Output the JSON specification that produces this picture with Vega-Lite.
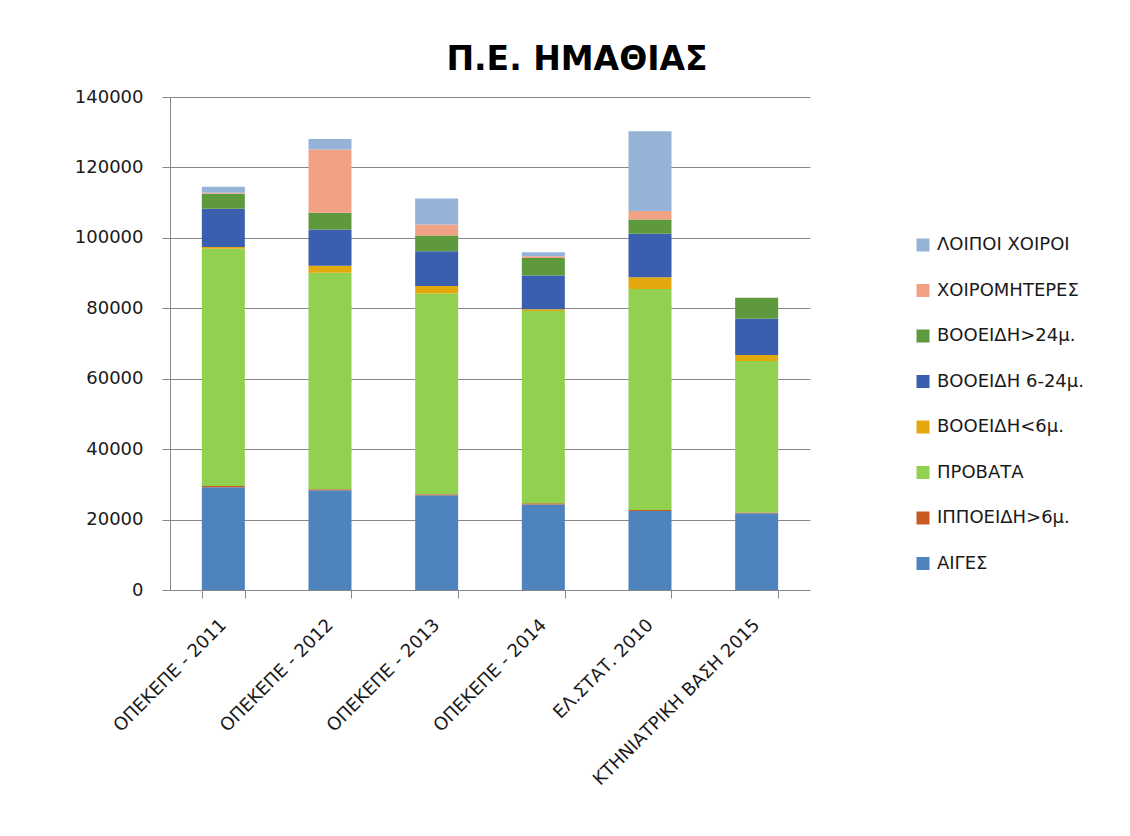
{
  "$schema": "https://vega.github.io/schema/vega-lite/v6.json",
  "autosize": "none",
  "width": 640,
  "height": 493,
  "padding": {"left": 170, "top": 97, "right": 320, "bottom": 246},
  "background": "white",
  "title": {
    "text": "Π.Ε. ΗΜΑΘΙΑΣ",
    "font": "DejaVu Sans",
    "fontSize": 33,
    "fontWeight": "bold",
    "color": "#000000",
    "anchor": "middle",
    "dx": 87,
    "offset": 11
  },
  "data": {
    "values": [
      {"cat": "ΟΠΕΚΕΠΕ - 2011", "s": "ΑΙΓΕΣ", "k": 1, "v": 29200},
      {"cat": "ΟΠΕΚΕΠΕ - 2011", "s": "ΙΠΠΟΕΙΔΗ>6μ.", "k": 2, "v": 300},
      {"cat": "ΟΠΕΚΕΠΕ - 2011", "s": "ΠΡΟΒΑΤΑ", "k": 3, "v": 67400},
      {"cat": "ΟΠΕΚΕΠΕ - 2011", "s": "ΒΟΟΕΙΔΗ<6μ.", "k": 4, "v": 500},
      {"cat": "ΟΠΕΚΕΠΕ - 2011", "s": "ΒΟΟΕΙΔΗ 6-24μ.", "k": 5, "v": 10900},
      {"cat": "ΟΠΕΚΕΠΕ - 2011", "s": "ΒΟΟΕΙΔΗ>24μ.", "k": 6, "v": 4200},
      {"cat": "ΟΠΕΚΕΠΕ - 2011", "s": "ΧΟΙΡΟΜΗΤΕΡΕΣ", "k": 7, "v": 300},
      {"cat": "ΟΠΕΚΕΠΕ - 2011", "s": "ΛΟΙΠΟΙ ΧΟΙΡΟΙ", "k": 8, "v": 1700},
      {"cat": "ΟΠΕΚΕΠΕ - 2012", "s": "ΑΙΓΕΣ", "k": 1, "v": 28300},
      {"cat": "ΟΠΕΚΕΠΕ - 2012", "s": "ΙΠΠΟΕΙΔΗ>6μ.", "k": 2, "v": 300},
      {"cat": "ΟΠΕΚΕΠΕ - 2012", "s": "ΠΡΟΒΑΤΑ", "k": 3, "v": 61500},
      {"cat": "ΟΠΕΚΕΠΕ - 2012", "s": "ΒΟΟΕΙΔΗ<6μ.", "k": 4, "v": 2000},
      {"cat": "ΟΠΕΚΕΠΕ - 2012", "s": "ΒΟΟΕΙΔΗ 6-24μ.", "k": 5, "v": 10300},
      {"cat": "ΟΠΕΚΕΠΕ - 2012", "s": "ΒΟΟΕΙΔΗ>24μ.", "k": 6, "v": 4700},
      {"cat": "ΟΠΕΚΕΠΕ - 2012", "s": "ΧΟΙΡΟΜΗΤΕΡΕΣ", "k": 7, "v": 18000},
      {"cat": "ΟΠΕΚΕΠΕ - 2012", "s": "ΛΟΙΠΟΙ ΧΟΙΡΟΙ", "k": 8, "v": 3000},
      {"cat": "ΟΠΕΚΕΠΕ - 2013", "s": "ΑΙΓΕΣ", "k": 1, "v": 26900},
      {"cat": "ΟΠΕΚΕΠΕ - 2013", "s": "ΙΠΠΟΕΙΔΗ>6μ.", "k": 2, "v": 300},
      {"cat": "ΟΠΕΚΕΠΕ - 2013", "s": "ΠΡΟΒΑΤΑ", "k": 3, "v": 57000},
      {"cat": "ΟΠΕΚΕΠΕ - 2013", "s": "ΒΟΟΕΙΔΗ<6μ.", "k": 4, "v": 2100},
      {"cat": "ΟΠΕΚΕΠΕ - 2013", "s": "ΒΟΟΕΙΔΗ 6-24μ.", "k": 5, "v": 9900},
      {"cat": "ΟΠΕΚΕΠΕ - 2013", "s": "ΒΟΟΕΙΔΗ>24μ.", "k": 6, "v": 4500},
      {"cat": "ΟΠΕΚΕΠΕ - 2013", "s": "ΧΟΙΡΟΜΗΤΕΡΕΣ", "k": 7, "v": 3100},
      {"cat": "ΟΠΕΚΕΠΕ - 2013", "s": "ΛΟΙΠΟΙ ΧΟΙΡΟΙ", "k": 8, "v": 7400},
      {"cat": "ΟΠΕΚΕΠΕ - 2014", "s": "ΑΙΓΕΣ", "k": 1, "v": 24300},
      {"cat": "ΟΠΕΚΕΠΕ - 2014", "s": "ΙΠΠΟΕΙΔΗ>6μ.", "k": 2, "v": 300},
      {"cat": "ΟΠΕΚΕΠΕ - 2014", "s": "ΠΡΟΒΑΤΑ", "k": 3, "v": 54600},
      {"cat": "ΟΠΕΚΕΠΕ - 2014", "s": "ΒΟΟΕΙΔΗ<6μ.", "k": 4, "v": 500},
      {"cat": "ΟΠΕΚΕΠΕ - 2014", "s": "ΒΟΟΕΙΔΗ 6-24μ.", "k": 5, "v": 9600},
      {"cat": "ΟΠΕΚΕΠΕ - 2014", "s": "ΒΟΟΕΙΔΗ>24μ.", "k": 6, "v": 5000},
      {"cat": "ΟΠΕΚΕΠΕ - 2014", "s": "ΧΟΙΡΟΜΗΤΕΡΕΣ", "k": 7, "v": 500},
      {"cat": "ΟΠΕΚΕΠΕ - 2014", "s": "ΛΟΙΠΟΙ ΧΟΙΡΟΙ", "k": 8, "v": 1100},
      {"cat": "ΕΛ.ΣΤΑΤ. 2010", "s": "ΑΙΓΕΣ", "k": 1, "v": 22400},
      {"cat": "ΕΛ.ΣΤΑΤ. 2010", "s": "ΙΠΠΟΕΙΔΗ>6μ.", "k": 2, "v": 300},
      {"cat": "ΕΛ.ΣΤΑΤ. 2010", "s": "ΠΡΟΒΑΤΑ", "k": 3, "v": 62800},
      {"cat": "ΕΛ.ΣΤΑΤ. 2010", "s": "ΒΟΟΕΙΔΗ<6μ.", "k": 4, "v": 3300},
      {"cat": "ΕΛ.ΣΤΑΤ. 2010", "s": "ΒΟΟΕΙΔΗ 6-24μ.", "k": 5, "v": 12400},
      {"cat": "ΕΛ.ΣΤΑΤ. 2010", "s": "ΒΟΟΕΙΔΗ>24μ.", "k": 6, "v": 4000},
      {"cat": "ΕΛ.ΣΤΑΤ. 2010", "s": "ΧΟΙΡΟΜΗΤΕΡΕΣ", "k": 7, "v": 2400},
      {"cat": "ΕΛ.ΣΤΑΤ. 2010", "s": "ΛΟΙΠΟΙ ΧΟΙΡΟΙ", "k": 8, "v": 22700},
      {"cat": "ΚΤΗΝΙΑΤΡΙΚΗ ΒΑΣΗ 2015", "s": "ΑΙΓΕΣ", "k": 1, "v": 21800},
      {"cat": "ΚΤΗΝΙΑΤΡΙΚΗ ΒΑΣΗ 2015", "s": "ΙΠΠΟΕΙΔΗ>6μ.", "k": 2, "v": 200},
      {"cat": "ΚΤΗΝΙΑΤΡΙΚΗ ΒΑΣΗ 2015", "s": "ΠΡΟΒΑΤΑ", "k": 3, "v": 43000},
      {"cat": "ΚΤΗΝΙΑΤΡΙΚΗ ΒΑΣΗ 2015", "s": "ΒΟΟΕΙΔΗ<6μ.", "k": 4, "v": 1700},
      {"cat": "ΚΤΗΝΙΑΤΡΙΚΗ ΒΑΣΗ 2015", "s": "ΒΟΟΕΙΔΗ 6-24μ.", "k": 5, "v": 10300},
      {"cat": "ΚΤΗΝΙΑΤΡΙΚΗ ΒΑΣΗ 2015", "s": "ΒΟΟΕΙΔΗ>24μ.", "k": 6, "v": 6000},
      {"cat": "ΚΤΗΝΙΑΤΡΙΚΗ ΒΑΣΗ 2015", "s": "ΧΟΙΡΟΜΗΤΕΡΕΣ", "k": 7, "v": 0},
      {"cat": "ΚΤΗΝΙΑΤΡΙΚΗ ΒΑΣΗ 2015", "s": "ΛΟΙΠΟΙ ΧΟΙΡΟΙ", "k": 8, "v": 0}
    ]
  },
  "mark": {"type": "bar", "width": 43},
  "encoding": {
    "x": {
      "field": "cat",
      "type": "nominal",
      "sort": null,
      "title": null,
      "scale": {"paddingInner": 0.6, "paddingOuter": 0.3},
      "axis": {
        "labelAngle": -45,
        "labelAlign": "right",
        "labelBaseline": "middle",
        "labelFont": "DejaVu Sans",
        "labelFontSize": 18,
        "labelColor": "#1a1a1a",
        "labelPadding": 24,
        "labelLimit": 400,
        "tickBand": "extent",
        "tickSize": 8,
        "tickColor": "#888888",
        "domainColor": "#888888",
        "grid": false
      }
    },
    "y": {
      "field": "v",
      "type": "quantitative",
      "stack": "zero",
      "title": null,
      "scale": {"domain": [0, 140000], "nice": false},
      "axis": {
        "values": [0, 20000, 40000, 60000, 80000, 100000, 120000, 140000],
        "format": "d",
        "labelFont": "DejaVu Sans",
        "labelFontSize": 18,
        "labelColor": "#1a1a1a",
        "labelPadding": 19,
        "tickSize": 8,
        "tickColor": "#888888",
        "domainColor": "#888888",
        "gridColor": "#888888",
        "gridOpacity": 1
      }
    },
    "color": {
      "field": "s",
      "type": "nominal",
      "scale": {
        "domain": ["ΛΟΙΠΟΙ ΧΟΙΡΟΙ", "ΧΟΙΡΟΜΗΤΕΡΕΣ", "ΒΟΟΕΙΔΗ>24μ.", "ΒΟΟΕΙΔΗ 6-24μ.", "ΒΟΟΕΙΔΗ<6μ.", "ΠΡΟΒΑΤΑ", "ΙΠΠΟΕΙΔΗ>6μ.", "ΑΙΓΕΣ"],
        "range": ["#95b3d7", "#f1a184", "#5e9a3d", "#3a5fae", "#e3a90c", "#92d050", "#c65b24", "#4f83be"]
      },
      "legend": {
        "title": null,
        "orient": "none",
        "legendX": 744,
        "legendY": 139,
        "symbolType": "square",
        "symbolSize": 169,
        "symbolStrokeWidth": 0,
        "labelFont": "DejaVu Sans",
        "labelFontSize": 18,
        "labelColor": "#1a1a1a",
        "labelOffset": 5,
        "rowPadding": 27.5,
        "padding": 0,
        "labelLimit": 300
      }
    },
    "order": {"field": "k", "type": "quantitative", "sort": "ascending"}
  },
  "config": {
    "view": {"stroke": null},
    "axis": {"domainWidth": 1, "tickWidth": 1, "gridWidth": 1}
  }
}
